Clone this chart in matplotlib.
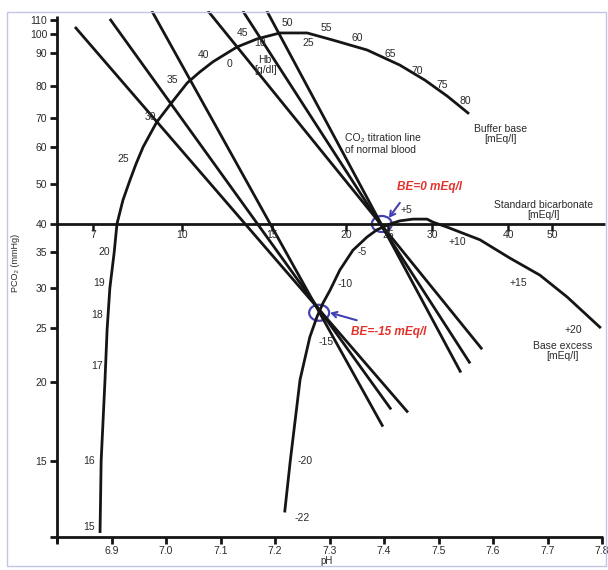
import numpy as np
import matplotlib
matplotlib.use("Agg")
import matplotlib.pyplot as plt
from matplotlib import transforms
from matplotlib.patches import Ellipse, Rectangle

plt.rcParams["font.family"] = ["Liberation Sans", "DejaVu Sans"]

# ---------------------------------------------------------------- data
# Buffer base curve (pH, PCO2 mmHg)
bb_ph = [6.879, 6.881, 6.888, 6.892, 6.897, 6.905, 6.910, 6.921, 6.934, 6.945,
         6.958, 6.971, 6.983, 7.007, 7.039, 7.062, 7.086, 7.130, 7.167, 7.209,
         7.259, 7.306, 7.369, 7.429, 7.475, 7.516, 7.554]
bb_pco2 = [11.6, 15.0, 20.1, 24.9, 30.0, 35.0, 40.0, 45.7, 51.0, 55.2,
           60.0, 64.3, 68.5, 73.9, 80.9, 84.1, 87.2, 93.0, 97.3, 100.7,
           100.7, 96.7, 91.5, 86.2, 81.7, 76.7, 71.5]
bb_labels = ["15", "16", "17", "18", "19", "20", "25", "30", "35", "40",
             "45", "50", "55", "60", "65", "70", "75", "80"]
bb_label_ph = [6.859, 6.859, 6.873, 6.873, 6.877, 6.886, 6.921, 6.971, 7.011, 7.068,
               7.141, 7.222, 7.294, 7.350, 7.411, 7.461, 7.506, 7.549]
bb_label_pco2 = [11.8, 15.0, 21.4, 26.5, 30.6, 35.0, 56.6, 70.3, 81.7, 89.3,
                 100.7, 107.8, 104.2, 97.8, 89.7, 84.4, 80.3, 75.1]

# Haemoglobin marks along the buffer base curve
hb_labels = ["0", "10", "25"]
hb_ph = [7.116, 7.172, 7.261]
hb_pco2 = [86.5, 95.1, 95.1]

# Base excess curve
be_ph = [7.218, 7.228, 7.246, 7.264, 7.277, 7.288, 7.301, 7.319, 7.343, 7.369,
         7.387, 7.398, 7.411, 7.429, 7.453, 7.479, 7.490, 7.516, 7.576, 7.631,
         7.686, 7.736, 7.796]
be_pco2 = [12.5, 15.0, 20.2, 24.1, 26.3, 28.0, 29.7, 32.4, 35.3, 37.6,
           38.9, 39.4, 40.0, 40.7, 41.1, 41.1, 40.4, 39.4, 37.1, 34.1,
           31.7, 28.8, 25.1]
be_labels = ["-22", "-20", "-15", "-10", "-5", "+5", "+10", "+15", "+20"]
be_label_ph = [7.250, 7.255, 7.294, 7.328, 7.360, 7.442, 7.534, 7.646, 7.747]
be_label_pco2 = [12.2, 15.0, 23.6, 30.5, 35.0, 43.3, 36.7, 30.6, 24.8]

# Standard bicarbonate scale on the PCO2 = 40 mmHg line
sb_values = ["7", "10", "15", "20", "25", "30", "40", "50"]
sb_ph = [6.866, 7.029, 7.195, 7.330, 7.407, 7.488, 7.628, 7.708]
sb_pco2 = 40

# CO2 titration lines (upper end, lower end)
tl_ph_top = [6.833, 6.897, 6.974, 7.077, 7.141, 7.185]
tl_pco2_top = [104.9, 110.8, 117.0, 117.0, 117.0, 117.0]
tl_ph_bottom = [7.444, 7.413, 7.398, 7.580, 7.558, 7.541]
tl_pco2_bottom = [17.9, 18.1, 17.0, 22.9, 21.6, 20.8]

# Marked points: BE = 0 and BE = -15 mEq/l
pt_ph = [7.396, 7.281]
pt_pco2 = [40.0, 26.8]

# Axis ticks
ph_ticks = [6.8, 6.9, 7.0, 7.1, 7.2, 7.3, 7.4, 7.5, 7.6, 7.7, 7.8]
pco2_ticks = [15, 20, 25, 30, 35, 40, 50, 60, 70, 80, 90, 100, 110]

# ------------------------------------------------- PCO2 axis spacing
# The PCO2 axis of this nomogram is not evenly logarithmic; each labelled
# value sits at its own height (fraction of the axis height).
tick_heights = [0.1445, 0.2947, 0.3973, 0.4734, 0.5418, 0.5951, 0.6711,
                0.7414, 0.7966, 0.8574, 0.9202, 0.9563, 0.9829]
_logs = np.log10(pco2_ticks)
_hts = np.array(tick_heights)


def _pwlin(x, xs, ys):
    x = np.asarray(x, dtype=float)
    y = np.interp(x, xs, ys)
    lo_slope = (ys[1] - ys[0]) / (xs[1] - xs[0])
    hi_slope = (ys[-1] - ys[-2]) / (xs[-1] - xs[-2])
    y = np.where(x < xs[0], ys[0] + (x - xs[0]) * lo_slope, y)
    y = np.where(x > xs[-1], ys[-1] + (x - xs[-1]) * hi_slope, y)
    return y


def pco2_forward(p):
    p = np.clip(np.asarray(p, dtype=float), 1e-12, None)
    return _pwlin(np.log10(p), _logs, _hts)


def pco2_inverse(h):
    return 10 ** _pwlin(h, _hts, _logs)


# ---------------------------------------------------------------- figure
INK = "#151515"
LABEL = "#2a2a2a"
BLUE = "#4343b0"
RED = "#e3312b"

fig = plt.figure(figsize=(6.08, 5.70), dpi=100)
ax = fig.add_axes([57 / 608, 33 / 570, 545 / 608, 526 / 570])
ax.set_yscale("function", functions=(pco2_forward, pco2_inverse))
ax.set_xlim(6.8, 7.8)
ax.set_ylim(float(pco2_inverse(0.0)), float(pco2_inverse(1.0)))

for s in ax.spines.values():
    s.set_visible(False)

# axis lines, extended slightly past each other
ax.plot([0, 0], [-0.0114, 0.9905], color=INK, lw=2.0, transform=ax.transAxes,
        clip_on=False, solid_capstyle="butt")
ax.plot([-0.0128, 1.0018], [0, 0], color=INK, lw=2.0, transform=ax.transAxes,
        clip_on=False, solid_capstyle="butt")

ax.set_xticks(ph_ticks)
ax.set_xticklabels(["" if t == 6.8 else f"{t:.1f}" for t in ph_ticks])
ax.set_yticks(pco2_ticks)
ax.set_yticklabels([str(t) for t in pco2_ticks])
ax.yaxis.set_minor_locator(matplotlib.ticker.NullLocator())
ax.tick_params(axis="both", direction="out", length=5, width=2, color=INK,
               labelsize=7.5, labelcolor=LABEL)
ax.tick_params(axis="x", pad=1.5)
ax.tick_params(axis="y", pad=2.0)

# standard bicarbonate axis (PCO2 = 40)
ax.plot([6.8, 7.8055], [sb_pco2, sb_pco2], color=INK, lw=2.0, clip_on=False,
        solid_capstyle="butt")
ax.plot(sb_ph, [sb_pco2] * len(sb_ph), ls="none", marker=3, ms=5, mew=1.8,
        color=INK)
for lab, x in zip(sb_values, sb_ph):
    ax.annotate(lab, (x, sb_pco2), xytext=(0, -4.5), textcoords="offset points",
                ha="center", va="top", fontsize=7.5, color=LABEL)

# CO2 titration lines
for x0, y0, x1, y1 in zip(tl_ph_top, tl_pco2_top, tl_ph_bottom, tl_pco2_bottom):
    ax.plot([x0, x1], [y0, y1], color=INK, lw=2.0, solid_capstyle="butt")

# buffer base and base excess curves
ax.plot(bb_ph, bb_pco2, color=INK, lw=2.0, solid_joinstyle="round")
ax.plot(be_ph, be_pco2, color=INK, lw=2.0, solid_joinstyle="round")

for lab, x, y in zip(bb_labels, bb_label_ph, bb_label_pco2):
    ax.text(x, y, lab, ha="center", va="center", fontsize=7.5, color=LABEL)
for lab, x, y in zip(hb_labels, hb_ph, hb_pco2):
    ax.text(x, y, lab, ha="center", va="center", fontsize=7.5, color=LABEL)
for lab, x, y in zip(be_labels, be_label_ph, be_label_pco2):
    ax.text(x, y, lab, ha="center", va="center", fontsize=7.5, color=LABEL)

# scale captions
ax.text(7.182, 86.2, "Hb\n[g/dl]", ha="center", va="center", fontsize=7.5,
        color=LABEL, linespacing=1.0)
ax.text(7.328, 61.0, "CO\u2082 titration line\nof normal blood", ha="left",
        va="center", fontsize=7.5, color=LABEL, linespacing=1.15)
ax.text(7.613, 64.3, "Buffer base\n[mEq/l]", ha="center", va="center",
        fontsize=7.5, color=LABEL, linespacing=1.0)
ax.text(7.692, 43.3, "Standard bicarbonate\n[mEq/l]", ha="center", va="center",
        fontsize=7.5, color=LABEL, linespacing=1.0)
ax.text(7.728, 22.7, "Base excess\n[mEq/l]", ha="center", va="center",
        fontsize=7.5, color=LABEL, linespacing=1.0)

# highlighted points
for x, y in zip(pt_ph, pt_pco2):
    ring = Ellipse((0, 0), 0.20, 0.16, fill=False, ec=BLUE, lw=1.6,
                   transform=fig.dpi_scale_trans
                   + transforms.ScaledTranslation(x, y, ax.transData))
    ax.add_patch(ring)

ax.annotate("", xy=(7.409, 41.4), xytext=(7.429, 45.0),
            arrowprops=dict(arrowstyle="->,head_length=0.35,head_width=0.2",
                            color=BLUE, lw=1.5, shrinkA=0, shrinkB=0))
ax.annotate("", xy=(7.301, 26.8), xytext=(7.350, 25.9),
            arrowprops=dict(arrowstyle="->,head_length=0.35,head_width=0.2",
                            color=BLUE, lw=1.5, shrinkA=0, shrinkB=0))
ax.text(7.424, 49.2, "BE=0 mEq/l", ha="left", va="center", fontsize=8.5,
        fontweight="bold", fontstyle="italic", color=RED)
ax.text(7.339, 24.6, "BE=-15 mEq/l", ha="left", va="center", fontsize=8.5,
        fontweight="bold", fontstyle="italic", color=RED)

# axis titles
fig.text(15 / 608, 1 - 263 / 570, "PCO\u2082 (mmHg)", rotation=90, ha="center",
         va="center", fontsize=6.5, color=LABEL)
fig.text(327 / 608, 1 - 561 / 570, "pH", ha="center", va="center",
         fontsize=7, color=LABEL)

# picture frame
fig.patches.append(Rectangle((7 / 608, 4 / 570), 599 / 608, 554 / 570,
                             transform=fig.transFigure, fill=False,
                             ec="#c4c4e6", lw=1.0))

fig.savefig("out.png", dpi=100)
